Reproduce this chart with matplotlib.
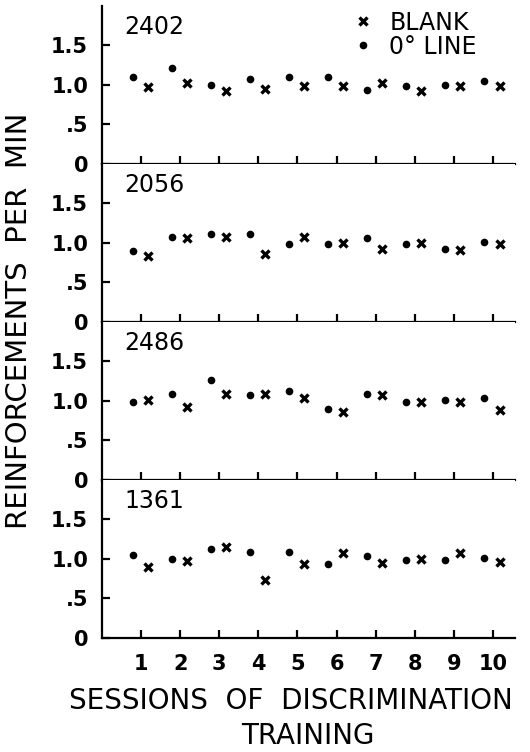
import matplotlib.pyplot as plt
from matplotlib.lines import Line2D
import numpy as np

sessions = np.arange(1, 11)
birds = ["2402", "2056", "2486", "1361"]

# 0 degree line sessions (dots)
line_vals = [
    [1.10, 1.22, 1.00, 1.07, 1.10, 1.10, 0.94, 0.99, 1.00, 1.05],
    [0.90, 1.08, 1.11, 1.11, 0.98, 0.98, 1.06, 0.99, 0.92, 1.01],
    [0.99, 1.09, 1.26, 1.07, 1.12, 0.90, 1.09, 0.98, 1.01, 1.04],
    [1.05, 1.00, 1.12, 1.09, 1.08, 0.93, 1.03, 0.99, 0.99, 1.01],
]
# blank sessions (x)
blank_vals = [
    [0.98, 1.03, 0.93, 0.95, 0.99, 0.99, 1.02, 0.92, 0.99, 0.99],
    [0.84, 1.06, 1.07, 0.86, 1.07, 1.00, 0.92, 1.00, 0.91, 0.98],
    [1.01, 0.92, 1.08, 1.08, 1.04, 0.86, 1.07, 0.99, 0.99, 0.89],
    [0.90, 0.97, 1.15, 0.73, 0.93, 1.07, 0.94, 1.00, 1.07, 0.96],
]

plt.rcParams['font.family'] = 'DejaVu Sans'
fig, axes = plt.subplots(4, 1, figsize=(5.3, 7.52), dpi=100, sharex=True)
fig.subplots_adjust(left=0.1925, right=0.972, top=0.992, bottom=0.152, hspace=0)

for i, ax in enumerate(axes):
    ax.plot(sessions - 0.22, line_vals[i], 'o', color='black', ms=4.5, ls='none')
    ax.plot(sessions + 0.17, blank_vals[i], 'x', color='black', ms=5.5, mew=2.4, ls='none')
    ax.set_xlim(0, 10.57)
    ax.set_ylim(0, 2.0)
    ax.set_yticks([0, 0.5, 1.0, 1.5])
    ax.set_yticklabels(['0', '.5', '1.0', '1.5'], fontsize=15, fontweight='bold')
    ax.set_xticks(sessions)
    ax.spines['top'].set_visible(False)
    ax.spines['right'].set_visible(False)
    ax.spines['left'].set_linewidth(1.6)
    ax.spines['bottom'].set_linewidth(1.6)
    ax.tick_params(direction='in', length=6, width=1.6, pad=10)
    ax.tick_params(axis='x', labelsize=15, pad=12)
    ax.text(0.055, 0.94, birds[i], transform=ax.transAxes, fontsize=17,
            ha='left', va='top')

axes[-1].set_xticklabels([str(s) for s in sessions], fontweight='bold')

handles = [Line2D([], [], marker='x', color='black', ms=5.5, mew=2.4, ls='none'),
           Line2D([], [], marker='o', color='black', ms=4.5, ls='none')]
axes[0].legend(handles, ['BLANK', '0° LINE'], loc='upper left', bbox_to_anchor=(0.61, 0.97),
               frameon=False, fontsize=17, handlelength=0.8, handletextpad=0.7,
               labelspacing=0.0, borderpad=0, borderaxespad=0)

fig.text(0.036, 0.574, 'REINFORCEMENTS  PER  MIN', rotation=90, fontsize=21,
         ha='center', va='center')
fig.text(0.549, 0.068, 'SESSIONS  OF  DISCRIMINATION', fontsize=20, ha='center', va='center')
fig.text(0.581, 0.021, 'TRAINING', fontsize=20, ha='center', va='center')

fig.savefig('out.png', dpi=100)
